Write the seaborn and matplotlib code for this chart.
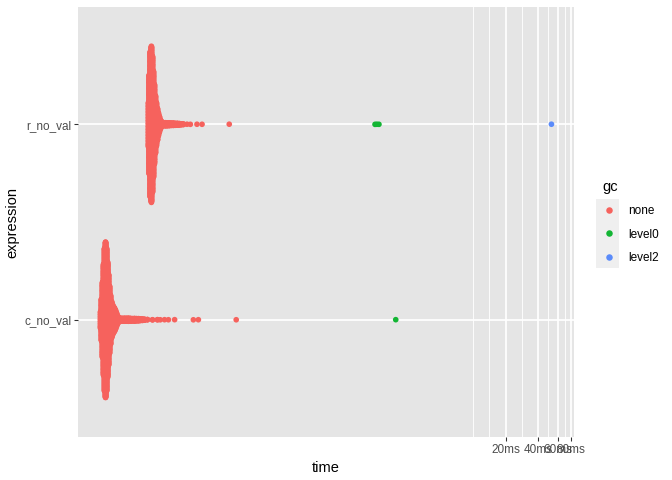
import numpy as np
import pandas as pd
import seaborn as sns
import matplotlib.pyplot as plt
from matplotlib.patches import Rectangle
from matplotlib.ticker import FixedLocator, NullFormatter

# expressions on the y axis (bottom to top) and gc levels
expressions = ["c_no_val", "r_no_val"]
gc_levels = ["none", "level0", "level2"]
gc_colors = ["#F6625D", "#13B534", "#5A8BFA"]

# c_no_val, gc = none: run time (microseconds) and number of runs at that time
c_none_us = [3.95, 4.03, 4.12, 4.21, 4.30, 4.39, 4.48, 4.58, 4.67, 4.77, 4.87, 4.98,
             5.08, 5.19, 5.30, 5.41, 5.53, 5.65, 5.77, 6.01, 6.27, 6.54, 6.82, 7.11,
             7.42, 7.74, 8.07, 8.41, 8.78, 9.15, 9.55, 9.96, 10.6, 11.8, 13.1, 13.9,
             15.2, 16.5, 18.8, 27.9, 31.0, 68.8]
c_none_n = [24, 108, 204, 300, 390, 462, 384, 300, 228, 168, 126, 92,
            76, 70, 64, 54, 36, 18, 16, 16, 16, 16, 16, 16,
            16, 14, 14, 12, 12, 10, 8, 6, 3, 2, 2, 1,
            1, 1, 1, 1, 1, 1]
c_level0_us = [1980]

# r_no_val, gc = none
r_none_us = [10.83, 11.05, 11.29, 11.53, 11.78, 12.03, 12.28, 12.54, 12.81, 13.08,
             13.36, 13.64, 13.93, 14.22, 14.84, 15.48, 16.14, 16.83, 17.55, 18.31,
             19.09, 19.92, 20.77, 21.66, 22.59, 24.4, 26.2, 30.1, 33.5, 59.4]
r_none_n = [48, 300, 432, 462, 360, 270, 192, 144, 108, 84,
            60, 36, 24, 18, 16, 16, 16, 14, 14, 12,
            12, 10, 8, 6, 4, 1, 1, 1, 1, 1]
r_level0_us = [1280, 1330, 1390]
r_level2_us = [52600]

rows = []
def add(expr, gc, times_us, counts=None):
    if counts is None:
        counts = [1] * len(times_us)
    for t, n in zip(times_us, counts):
        rows.extend([(expr, gc, t * 1e-6)] * n)

add("c_no_val", "none", c_none_us, c_none_n)
add("c_no_val", "level0", c_level0_us)
add("r_no_val", "none", r_none_us, r_none_n)
add("r_no_val", "level0", r_level0_us)
add("r_no_val", "level2", r_level2_us)
df = pd.DataFrame(rows, columns=["expression", "gc", "time"])


def vdc(n):
    out = np.zeros(n)
    for i in range(n):
        k, denom, v = i + 1, 1.0, 0.0
        while k > 0:
            denom *= 2
            k, r = divmod(k, 2)
            v += r / denom
        out[i] = v
    return out


def quasi_offset(t, width=0.4, bw=0.009):
    # quasirandom spread: van der Corput order scaled by density on log time
    lx = np.log10(t)
    u, inv, cnt = np.unique(lx, return_inverse=True, return_counts=True)
    du = (cnt[None, :] * np.exp(-0.5 * ((u[:, None] - u[None, :]) / bw) ** 2)).sum(axis=1)
    d = (du / du.max())[inv]
    rank = np.argsort(np.argsort(t, kind="stable"), kind="stable")
    return (vdc(len(t))[rank] - 0.5) * 2 * width * d


df["y"] = 0.0
for i, expr in enumerate(expressions):
    m = df["expression"] == expr
    df.loc[m, "y"] = i + quasi_offset(df.loc[m, "time"].to_numpy())

plt.rcParams["font.family"] = ["Liberation Sans", "DejaVu Sans"]
fig, ax = plt.subplots(figsize=(7, 5), dpi=96)
fig.subplots_adjust(left=78 / 672, right=574 / 672, top=1 - 7 / 480, bottom=1 - 437 / 480)
ax.set_facecolor("#E5E5E5")

sns.scatterplot(data=df, x="time", y="y", hue="gc", hue_order=gc_levels,
                palette=gc_colors, s=18, linewidth=0, ax=ax)
ax.set_xscale("log")

lo, hi = np.log10(df["time"].min()), np.log10(df["time"].max())
pad = 0.05 * (hi - lo)
ax.set_xlim(10 ** (lo - pad), 10 ** (hi + pad))
ax.set_ylim(-0.6, 1.6)

ax.xaxis.set_major_locator(FixedLocator([0.02, 0.04, 0.06, 0.08]))
ax.set_xticklabels(["20ms", "40ms", "60ms", "80ms"])
ax.xaxis.set_minor_locator(FixedLocator([0.01, 0.01414, 0.02828, 0.04899, 0.06928]))
ax.xaxis.set_minor_formatter(NullFormatter())
ax.set_yticks([0, 1])
ax.set_yticklabels(expressions)

ax.grid(which="major", color="white", linewidth=1.3)
ax.grid(which="minor", axis="x", color="white", linewidth=0.65)
ax.set_axisbelow(True)
for s in ax.spines.values():
    s.set_visible(False)
ax.tick_params(which="major", length=2.75, width=0.8, color="#333333",
               labelcolor="#4D4D4D", labelsize=8.8, pad=2.2)
ax.tick_params(which="minor", length=0)

ax.set_xlabel("time", fontsize=11, labelpad=4)
ax.set_ylabel("expression", fontsize=11, labelpad=4)

handles, labels = ax.get_legend_handles_labels()
leg = ax.legend(handles, labels, title="gc", loc="upper left",
                bbox_to_anchor=(594 / 672, 1 - 172 / 480), bbox_transform=fig.transFigure,
                frameon=False, fontsize=8.8, title_fontsize=11, alignment="left",
                handlelength=1.2, handletextpad=1.0, labelspacing=0.95, borderpad=0.2,
                markerscale=1.15)
ax.add_patch(Rectangle((596 / 672, 1 - 268 / 480), 23 / 672, 69 / 480,
                       transform=fig.transFigure, facecolor="#EFEFEF",
                       edgecolor="none", clip_on=False, zorder=1))

fig.savefig("out.png", dpi=96)
